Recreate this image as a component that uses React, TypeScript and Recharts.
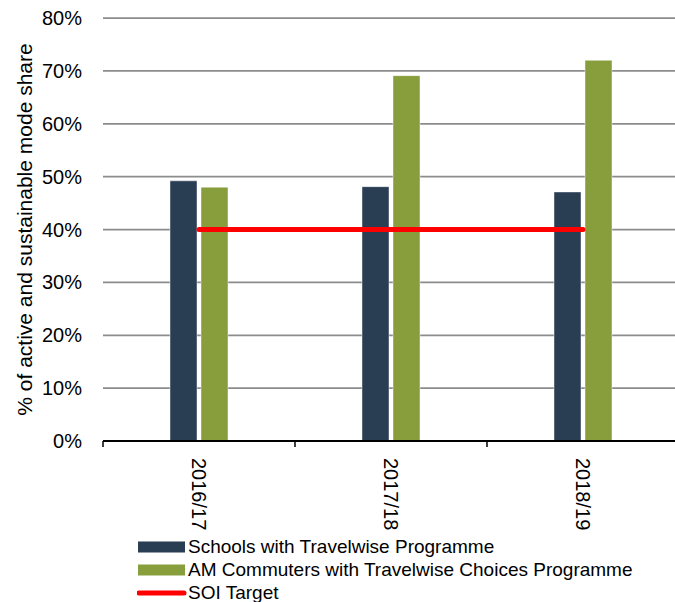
import { ComposedChart, Bar, Line, XAxis, YAxis, CartesianGrid, Legend } from 'recharts'

const years = ['2016/17', '2017/18', '2018/19']
const schools = [49.2, 48.1, 47.1]
const commuters = [48.0, 69.1, 72.0]
const soiTarget = [40, 40, 40]
const yTicks = [0, 10, 20, 30, 40, 50, 60, 70, 80]

const seriesNames = {
  schools: 'Schools with Travelwise Programme',
  commuters: 'AM Commuters with Travelwise Choices Programme',
  target: 'SOI Target',
}

const NAVY = '#293d53'
const GREEN = '#889e3d'
const RED = '#ff0000'
const FONT = '"Liberation Sans", Arial, sans-serif'

const data = years.map((year, i) => ({
  year,
  schools: schools[i],
  commuters: commuters[i],
  target: soiTarget[i],
}))

function CategoryTick(props: any) {
  const { x, y, payload } = props
  // tick marks sit on the category boundaries, labels in the middle
  const edge = x - (payload.offset ?? 0)
  return (
    <g>
      <line x1={edge} y1={y - 17} x2={edge} y2={y - 11} stroke="#000" strokeWidth={1.5} />
      <text
        x={x}
        y={y}
        dy="0.35em"
        transform={`rotate(90, ${x}, ${y})`}
        textAnchor="start"
        fontSize={20}
        fontFamily={FONT}
        fill="#000"
      >
        {payload.value}
      </text>
    </g>
  )
}

function LegendBox() {
  const rows = [
    { key: 'schools', kind: 'rect', color: NAVY },
    { key: 'commuters', kind: 'rect', color: GREEN },
    { key: 'target', kind: 'line', color: RED },
  ] as const
  return (
    <div style={{ height: 69, fontFamily: FONT, fontSize: 19, color: '#000' }}>
      {rows.map((r) => (
        <div key={r.key} style={{ height: 23, display: 'flex', alignItems: 'center' }}>
          <svg width={50} height={14} style={{ display: 'block' }}>
            {r.kind === 'rect' ? (
              <rect x={1} y={1.5} width={47} height={11} fill={r.color} />
            ) : (
              <line x1={2} y1={7} x2={47} y2={7} stroke={r.color} strokeWidth={5} strokeLinecap="round" />
            )}
          </svg>
          <span style={{ marginLeft: 1, whiteSpace: 'nowrap', lineHeight: '23px' }}>
            {seriesNames[r.key]}
          </span>
        </div>
      ))}
    </div>
  )
}

export default function App() {
  return (
    <div style={{ position: 'absolute', left: 0, top: 0, width: 675, height: 602, overflow: 'hidden', background: '#fff' }}>
      <ComposedChart
        width={684}
        height={602}
        data={data}
        margin={{ top: 18, right: 5, bottom: 0, left: 0 }}
        barSize={27}
        barGap={4}
        style={{ fontFamily: FONT }}
      >
        <CartesianGrid vertical={false} stroke="#8c8c8c" strokeWidth={1.75} />
        <XAxis
          dataKey="year"
          height={92}
          axisLine={{ stroke: '#000', strokeWidth: 2 }}
          tickLine={false}
          tickSize={6}
          tickMargin={11}
          tick={<CategoryTick />}
          interval={0}
        />
        <YAxis
          width={103}
          domain={[0, 80]}
          ticks={yTicks}
          tickFormatter={(v: number) => `${v}%`}
          axisLine={false}
          tickLine={false}
          tickSize={0}
          tickMargin={21}
          tick={{ fontSize: 20, fill: '#000', fontFamily: FONT }}
          label={{
            value: '% of active and sustainable mode share',
            angle: -90,
            position: 'insideLeft',
            offset: 25,
            style: { textAnchor: 'middle', fontSize: 21, fill: '#000', fontFamily: FONT },
          }}
        />
        <Legend
          verticalAlign="bottom"
          align="left"
          content={<LegendBox />}
          wrapperStyle={{ left: 137, bottom: -2, width: 'auto' }}
        />
        <Bar
          dataKey="schools"
          name={seriesNames.schools}
          fill={NAVY}
          stroke="rgba(255,255,255,0.45)"
          strokeWidth={1}
          isAnimationActive={false}
        />
        <Bar
          dataKey="commuters"
          name={seriesNames.commuters}
          fill={GREEN}
          stroke="rgba(255,255,255,0.45)"
          strokeWidth={1}
          isAnimationActive={false}
        />
        <Line
          dataKey="target"
          name={seriesNames.target}
          type="linear"
          stroke={RED}
          strokeWidth={5}
          strokeLinecap="round"
          dot={false}
          activeDot={false}
          isAnimationActive={false}
        />
      </ComposedChart>
    </div>
  )
}
